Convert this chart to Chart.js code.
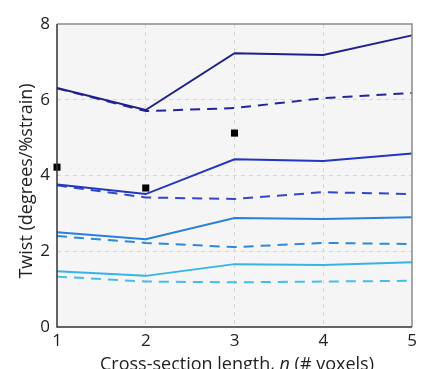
<!DOCTYPE html>
<html>
<head>
<meta charset="utf-8">
<script src="https://cdn.jsdelivr.net/npm/chart.js@4.4.0/dist/chart.umd.min.js"></script>
<style>
  html, body { margin: 0; padding: 0; background: #fff; }
  #wrap { width: 428px; height: 369px; }
</style>
</head>
<body>
<div id="wrap"><canvas id="twistChart" width="428" height="369"></canvas></div>
<script>
// cross-section length n (# voxels)
const nLabels = ["1", "2", "3", "4", "5"];

// twist values
const navySolid   = [6.31, 5.73, 7.23, 7.18, 7.70];
const navyDashed  = [6.30, 5.70, 5.78, 6.04, 6.18];
const blueSolid   = [3.76, 3.51, 4.43, 4.38, 4.58];
const blueDashed  = [3.74, 3.42, 3.38, 3.56, 3.51];
const midSolid    = [2.50, 2.32, 2.88, 2.85, 2.90];
const midDashed   = [2.40, 2.22, 2.11, 2.22, 2.19];
const lightSolid  = [1.47, 1.35, 1.66, 1.64, 1.71];
const lightDashed = [1.33, 1.20, 1.18, 1.20, 1.22];
const measured    = [4.22, 3.67, 5.12, null, null];

const yTicks = [0, 2, 4, 6, 8];

const FONT = "'Open Sans', 'Noto Sans', sans-serif";

function line(data, color, dashed) {
  return {
    data: data,
    borderColor: color,
    borderWidth: 2,
    borderDash: dashed ? [10, 7] : [],
    pointRadius: 0,
    fill: false,
    tension: 0
  };
}

// plot background + frame
const framePlugin = {
  id: "frame",
  beforeDraw(chart) {
    const { ctx, chartArea: a } = chart;
    ctx.save();
    ctx.fillStyle = "#f5f5f5";
    ctx.fillRect(a.left, a.top, a.right - a.left, a.bottom - a.top);
    ctx.restore();
  },
  afterDatasetsDraw(chart) {
    const { ctx, chartArea: a } = chart;
    ctx.save();
    ctx.strokeStyle = "#8a8a8a";
    ctx.lineWidth = 1.5;
    ctx.beginPath();
    ctx.moveTo(a.left, a.top);
    ctx.lineTo(a.right, a.top);
    ctx.lineTo(a.right, a.bottom);
    ctx.stroke();
    ctx.strokeStyle = "#333";
    ctx.beginPath();
    ctx.moveTo(a.left, a.top);
    ctx.lineTo(a.left, a.bottom);
    ctx.lineTo(a.right, a.bottom);
    ctx.stroke();
    ctx.restore();
  }
};

// axis titles (x title has an italic n)
const titlePlugin = {
  id: "titles",
  afterDraw(chart) {
    const { ctx, chartArea: a } = chart;
    ctx.save();
    ctx.fillStyle = "#222";
    ctx.textBaseline = "alphabetic";

    const parts = [
      ["Cross-section length, ", "18px " + FONT],
      ["n", "italic 18px " + FONT],
      [" (# voxels)", "18px " + FONT]
    ];
    let total = 0;
    parts.forEach(p => { ctx.font = p[1]; total += ctx.measureText(p[0]).width; });
    let x = 237 - total / 2;
    parts.forEach(p => {
      ctx.font = p[1];
      ctx.textAlign = "left";
      ctx.fillText(p[0], x, 370);
      x += ctx.measureText(p[0]).width;
    });

    ctx.translate(27, 181);
    ctx.rotate(-Math.PI / 2);
    ctx.font = "18px " + FONT;
    ctx.textAlign = "center";
    ctx.textBaseline = "middle";
    ctx.fillText("Twist (degrees/%strain)", 0, 0);
    ctx.restore();
  }
};

const gridColor = ctx => (ctx.index === 0 || ctx.index === ctx.chart.scales[ctx.scale.id].ticks.length - 1)
  ? "rgba(0,0,0,0)" : "#d6d6d6";

new Chart(document.getElementById("twistChart"), {
  type: "line",
  data: {
    labels: nLabels,
    datasets: [
      line(navySolid, "#20208a", false),
      line(navyDashed, "#25259a", true),
      line(blueSolid, "#2236c0", false),
      line(blueDashed, "#3348c4", true),
      line(midSolid, "#2a80da", false),
      line(midDashed, "#3088d8", true),
      line(lightSolid, "#36b4ea", false),
      line(lightDashed, "#45bde8", true),
      {
        data: measured,
        showLine: false,
        pointStyle: "rect",
        pointRadius: 5,
        pointBackgroundColor: "#000",
        pointBorderColor: "#000",
        pointBorderWidth: 0,
        clip: false
      }
    ]
  },
  options: {
    responsive: false,
    animation: false,
    layout: { padding: { top: 24, right: 16, left: 0, bottom: 0 } },
    plugins: {
      legend: { display: false },
      tooltip: { enabled: false }
    },
    scales: {
      x: {
        offset: false,
        grid: { color: gridColor, drawTicks: false, lineWidth: 1 },
        border: { display: false, dash: [4, 4] },
        ticks: { color: "#222", font: { family: FONT, size: 17 }, padding: 4, maxRotation: 0 },
        afterFit(scale) { scale.height = 42; }
      },
      y: {
        min: 0,
        max: 8,
        afterBuildTicks(scale) { scale.ticks = yTicks.map(v => ({ value: v })); },
        grid: { color: gridColor, drawTicks: false, lineWidth: 1 },
        border: { display: false, dash: [4, 4] },
        ticks: { color: "#222", font: { family: FONT, size: 17 }, padding: 7 },
        afterFit(scale) { scale.width = 57; }
      }
    }
  },
  plugins: [framePlugin, titlePlugin]
});
</script>
</body>
</html>
